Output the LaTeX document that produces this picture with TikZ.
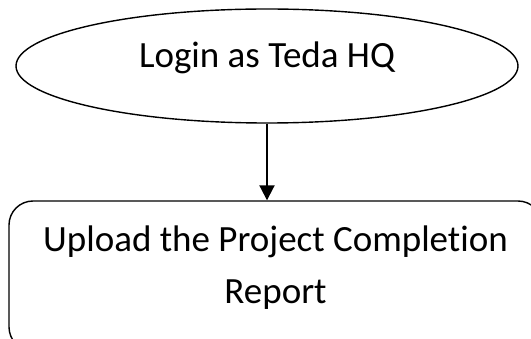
\documentclass[tikz,border=0pt]{standalone}
\usepackage{fontspec}
\setmainfont{Carlito}[Ligatures=NoCommon]
\usetikzlibrary{shapes.geometric,arrows.meta}

\begin{document}
\begin{tikzpicture}[x=1pt,y=-1pt,
    stage/.style={draw,line width=1.4pt,inner sep=0pt,font=\fontsize{37}{52}\selectfont},
    flow/.style={line width=2pt,-{Triangle[length=15pt,width=15pt]}}]
        \useasboundingbox (0,0) rectangle (531,339);
        \node[stage,ellipse,minimum width=502pt,minimum height=114pt,text height=16pt,text depth=12pt] (login) at (267,66) {Login as Teda HQ};
        \node[stage,rectangle,rounded corners=24pt,minimum width=533pt,minimum height=150pt,align=center,text height=64pt,text depth=8pt] (upload) at (275.5,276) {Upload the Project Completion\\Report};
        \draw[flow] (login.south) -- (login.south |- upload.north);
      \end{tikzpicture}
\end{document}
